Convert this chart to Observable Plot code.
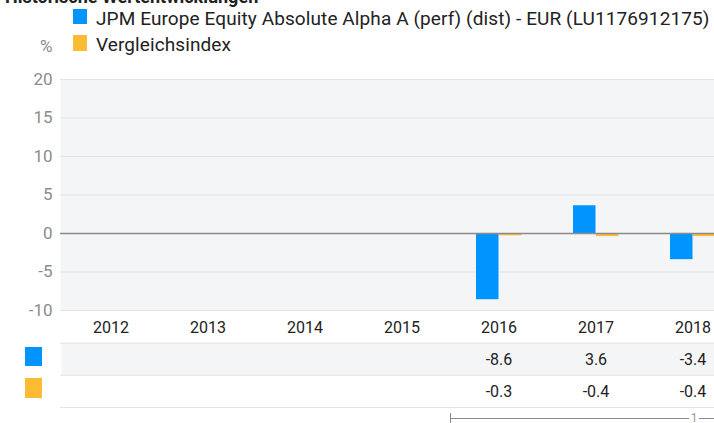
<!DOCTYPE html>
<html>
<head>
<meta charset="utf-8">
<script src="https://cdn.jsdelivr.net/npm/d3@7"></script>
<script src="https://cdn.jsdelivr.net/npm/@observablehq/plot@0.6"></script>
<style>
  html, body { margin: 0; padding: 0; background: #fff; overflow: hidden; width: 714px; height: 423px; }
  body { position: relative; font-family: Roboto, "Liberation Sans", sans-serif; color: #222; }
  .abs { position: absolute; white-space: nowrap; }
  .sw { position: absolute; }
  #chart, #table { position: absolute; left: 0; width: 743px; }
  #chart { top: 60px; }
  #table { top: 342px; }
  #chart svg, #table svg { max-width: none !important; height: auto; }
</style>
</head>
<body>
<div class="abs" style="left:5px; top:-13px; font-size:18px; line-height:20px; font-weight:bold;">Historische Wertentwicklungen</div>
<div class="sw" style="left:73px; top:9px; width:14px; height:15px; background:#0094ff;"></div>
<div class="abs" style="left:96px; top:9px; font-size:19px; line-height:20px; letter-spacing:0.1px;" id="leg1"></div>
<div class="abs" style="left:40px; top:36px; font-size:17px; line-height:20px; color:#8c8c8c;">%</div>
<div class="sw" style="left:73px; top:35px; width:14px; height:16px; background:#ffbb33;"></div>
<div class="abs" style="left:96px; top:35px; font-size:19px; line-height:20px; letter-spacing:0.1px;" id="leg2"></div>
<div id="chart"></div>
<div id="table"></div>
<div class="sw" style="left:25px; top:347px; width:17px; height:19px; background:#0094ff;"></div>
<div class="sw" style="left:25px; top:378px; width:17px; height:20px; background:#ffbb33;"></div>
<svg class="sw" style="left:0; top:408px;" width="714" height="15">
  <line x1="450" y1="10.5" x2="714" y2="10.5" stroke="#8a8a8a" stroke-width="1"/>
  <line x1="450.5" y1="5" x2="450.5" y2="15" stroke="#8a8a8a" stroke-width="1"/>
  <rect x="689" y="3" width="10" height="12" fill="#fff"/>
  <text x="694" y="14" text-anchor="middle" font-size="12" fill="#9a9a9a" font-family="Roboto, sans-serif">1</text>
</svg>
<script>
const years = ["2012", "2013", "2014", "2015", "2016", "2017", "2018"];
const seriesNames = ["JPM Europe Equity Absolute Alpha A (perf) (dist) - EUR (LU1176912175)", "Vergleichsindex"];
const seriesKeys = ["fund", "index"];
const seriesColors = ["#0094ff", "#ffbb33"];
const fundValues = [null, null, null, null, -8.6, 3.6, -3.4];
const indexValues = [null, null, null, null, -0.3, -0.4, -0.4];
const yTicks = [-10, -5, 0, 5, 10, 15, 20];

document.getElementById("leg1").textContent = seriesNames[0];
document.getElementById("leg2").textContent = seriesNames[1];

const fundData = years.map((year, i) => ({year, value: fundValues[i], series: "fund"}));
const indexData = years.map((year, i) => ({year, value: indexValues[i], series: "index"}));
const allData = fundData.concat(indexData);

const W = 743;
const chart = Plot.plot({
  width: W,
  height: 282,
  marginTop: 19,
  marginBottom: 32,
  marginLeft: 60,
  marginRight: 0,
  style: {fontFamily: "Roboto, sans-serif", background: "transparent", overflow: "visible", maxWidth: "none"},
  x: {type: "band", domain: years, padding: 0, label: null},
  y: {domain: [-10, 20], label: null},
  marks: [
    Plot.frame({fill: "#f4f5f7", stroke: null}),
    Plot.ruleY(yTicks.filter(d => d !== 0), {stroke: "#e3e4e6", strokeWidth: 1.2}),
    Plot.barY(fundData.filter(d => d.value != null), {x: "year", y: "value", fill: seriesColors[0], insetLeft: 26, insetRight: 48.5}),
    Plot.barY(indexData.filter(d => d.value != null), {x: "year", y: "value", fill: seriesColors[1], insetLeft: 49, insetRight: 25.5}),
    Plot.ruleY([0], {stroke: "#8a8a8a", strokeWidth: 1.5}),
    Plot.axisY({ticks: yTicks, tickSize: 0, tickPadding: 8, fontSize: 17, fill: "#8c8c8c", label: null, tickFormat: d => String(d)}),
    Plot.axisX({tickSize: 0, tickPadding: 11, fontSize: 16, fill: "#222", label: null})
  ]
});
chart.style.maxWidth = "none";
document.getElementById("chart").appendChild(chart);

const table = Plot.plot({
  width: W,
  height: 66,
  marginTop: 0,
  marginBottom: 1,
  marginLeft: 60,
  marginRight: 0,
  style: {fontFamily: "Roboto, sans-serif", background: "transparent", maxWidth: "none"},
  x: {type: "band", domain: years, padding: 0, axis: null},
  y: {type: "band", domain: seriesKeys, padding: 0, axis: null},
  marks: [
    Plot.cell(fundData, {x: "year", y: "series", fill: "#f4f5f7", inset: -0.5}),
    Plot.ruleY(seriesKeys, {y: d => d, dy: -16.25, stroke: "#e3e4e6", strokeWidth: 1.2}),
    Plot.ruleY([seriesKeys[seriesKeys.length - 1]], {y: d => d, dy: 16, stroke: "#e3e4e6", strokeWidth: 1.2}),
    Plot.text(allData.filter(d => d.value != null), {x: "year", y: "series", text: d => d.value.toFixed(1), fontSize: 16, fill: "#222"})
  ]
});
table.style.maxWidth = "none";
document.getElementById("table").appendChild(table);
</script>
</body>
</html>
